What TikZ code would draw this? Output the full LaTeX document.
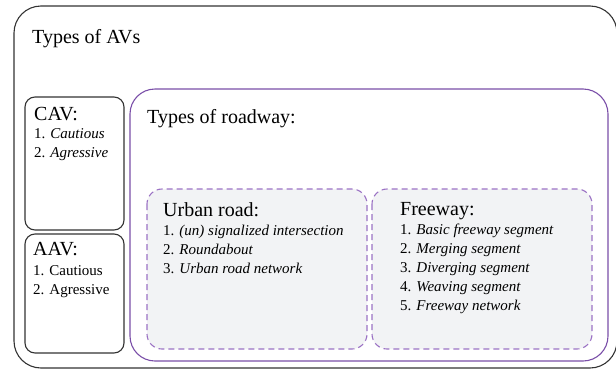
\documentclass[tikz,border=0pt]{standalone}
\usepackage{fontspec}
\setmainfont{Liberation Serif}
\definecolor{frame}{HTML}{333333}
\definecolor{purp}{HTML}{7A4EA8}
\definecolor{lpurp}{HTML}{9B72C4}
\definecolor{boxfill}{HTML}{F2F3F5}
\newcommand{\itemlist}[1]{\begin{tabular}[t]{@{}l@{}}#1\end{tabular}}
\begin{document}
\begin{tikzpicture}[x=1pt,y=-1pt,
  outerbox/.style={draw=frame,line width=1.1pt,rounded corners=27pt},
  avbox/.style={draw=frame,line width=1.1pt,rounded corners=10pt},
  roadbox/.style={draw=purp,line width=1.1pt,rounded corners=25pt},
  subbox/.style={draw=lpurp,fill=boxfill,line width=1.1pt,dash pattern=on 6pt off 4pt,rounded corners=15pt},
  head/.style={anchor=base west,inner sep=0pt,font=\fontsize{20}{24}\selectfont},
  items/.style={anchor=base west,inner sep=0pt,font=\fontsize{15}{19}\selectfont}]
\useasboundingbox (0,0) rectangle (616,370);
\draw[outerbox] (14,6) rectangle (617,368);
\draw[avbox] (25,97) rectangle (124,230);
\draw[avbox] (25,234) rectangle (124,353);
\draw[roadbox] (130,89) rectangle (608,361);
\draw[subbox] (147,189) rectangle (367,349);
\draw[subbox] (372,189) rectangle (592,349);
\node[head] (tav) at (32,43) {Types of AVs};
\node[head] (trd) at (147,123) {Types of roadway:};
\node[head] (cav) at (34,120) {CAV:};
\node[items] (cavi) at (34,138) {\itemlist{1. \textit{Cautious}\\2. \textit{Agressive}}};
\node[head] (aav) at (33,255) {AAV:};
\node[items] (aavi) at (33,275) {\itemlist{1. Cautious\\2. Agressive}};
\node[head] (urb) at (163,216) {Urban road:};
\node[items] (urbi) at (163,235) {\itemlist{1. \textit{(un) signalized intersection}\\2. \textit{Roundabout}\\3. \textit{Urban road network}}};
\node[head] (fwy) at (400,215) {Freeway:};
\node[items] (fwyi) at (400,234) {\itemlist{1. \textit{Basic freeway segment}\\2. \textit{Merging segment}\\3. \textit{Diverging segment}\\4. \textit{Weaving segment}\\5. \textit{Freeway network}}};
\end{tikzpicture}
\end{document}
